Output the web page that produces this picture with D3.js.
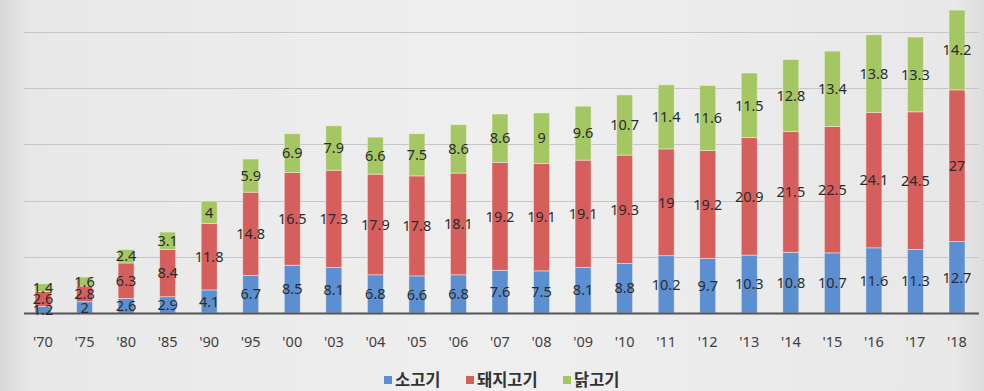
<!DOCTYPE html>
<html><head><meta charset="utf-8">
<script src="https://cdn.jsdelivr.net/npm/d3@7"></script>
<style>html,body{margin:0;padding:0;background:#e9e9e9;}svg{display:block;}</style>
</head><body>
<svg id="c" width="984" height="391"></svg>
<script>
const years = ["'70","'75","'80","'85","'90","'95","'00","'03","'04","'05","'06","'07","'08","'09","'10","'11","'12","'13","'14","'15","'16","'17","'18"];
const beef = [1.2,2,2.6,2.9,4.1,6.7,8.5,8.1,6.8,6.6,6.8,7.6,7.5,8.1,8.8,10.2,9.7,10.3,10.8,10.7,11.6,11.3,12.7];
const pork = [2.6,2.8,6.3,8.4,11.8,14.8,16.5,17.3,17.9,17.8,18.1,19.2,19.1,19.1,19.3,19,19.2,20.9,21.5,22.5,24.1,24.5,27];
const chicken = [1.4,1.6,2.4,3.1,4,5.9,6.9,7.9,6.6,7.5,8.6,8.6,9,9.6,10.7,11.4,11.6,11.5,12.8,13.4,13.8,13.3,14.2];
const seriesNames = ["소고기","돼지고기","닭고기"];
const gridTicks = [10,20,30,40,50];

const colors = ["#5b8fd1","#d65f5e","#a5c763"];
const svg = d3.select("#c");
const W=984,H=391;
const defs = svg.append("defs");
const g1 = defs.append("linearGradient").attr("id","bg").attr("x1","0").attr("x2","1").attr("y1","0").attr("y2","0");
[[0,"#d6d6d6"],[0.012,"#dedede"],[0.03,"#e8e8e8"],[0.5,"#efefef"],[0.97,"#e8e8e8"],[1,"#dcdcdc"]].forEach(s=>g1.append("stop").attr("offset",s[0]).attr("stop-color",s[1]));
svg.append("rect").attr("width",W).attr("height",H).attr("fill","url(#bg)");

const x = d3.scalePoint().domain(years).range([43,957]);
const y = d3.scaleLinear().domain([0,50]).range([313,32]);
const bw = 16;

svg.append("g").selectAll("line").data(gridTicks).join("line")
  .attr("x1",24).attr("x2",979).attr("y1",d=>Math.round(y(d))+0.5).attr("y2",d=>Math.round(y(d))+0.5)
  .attr("stroke","#c6c6c6").attr("stroke-width",1.2);

const data = years.map((yr,i)=>({yr, vals:[beef[i],pork[i],chicken[i]]}));
const stack = d3.stack().keys([0,1,2]).value((d,k)=>d.vals[k])(data);

const gb = svg.append("g");
stack.forEach((layer,k)=>{
  gb.selectAll(null).data(layer).join("rect")
    .attr("x",d=>x(d.data.yr)-bw/2).attr("width",bw)
    .attr("y",d=>y(d[1])).attr("height",d=>y(d[0])-y(d[1]))
    .attr("fill",colors[k]).attr("stroke","#f3f3e8").attr("stroke-opacity",0.6).attr("stroke-width",0.8);
});

svg.append("line").attr("x1",24).attr("x2",979).attr("y1",313.5).attr("y2",313.5)
  .attr("stroke","#555").attr("stroke-width",2);

const gl = svg.append("g").attr("font-family","'Noto Sans','Open Sans',sans-serif").attr("font-size",14.5).attr("fill","#2b2b2b").attr("text-anchor","middle");
stack.forEach((layer,k)=>{
  gl.selectAll(null).data(layer).join("text")
    .attr("x",d=>x(d.data.yr)).attr("y",d=>(y(d[0])+y(d[1]))/2).attr("dy","0.36em")
    .text(d=>d.data.vals[k]);
});

svg.append("g").selectAll("text").data(years).join("text")
  .attr("x",d=>x(d)).attr("y",342).attr("dy","0.36em").attr("text-anchor","middle")
  .attr("font-family","'Noto Sans','Open Sans',sans-serif").attr("font-size",14.5).attr("fill","#404040")
  .text(d=>d);

const legX = [388,470,567];
const lg = svg.append("g");
seriesNames.forEach((n,i)=>{
  lg.append("rect").attr("x",legX[i]-4).attr("y",376).attr("width",8).attr("height",8).attr("fill",colors[i]);
  lg.append("text").attr("x",legX[i]+7).attr("y",380).attr("dy","0.36em")
    .attr("font-family","'Noto Sans CJK KR',sans-serif").attr("font-size",16.5).attr("font-weight",700).attr("fill","#333").text(n);
});
</script>
</body></html>
